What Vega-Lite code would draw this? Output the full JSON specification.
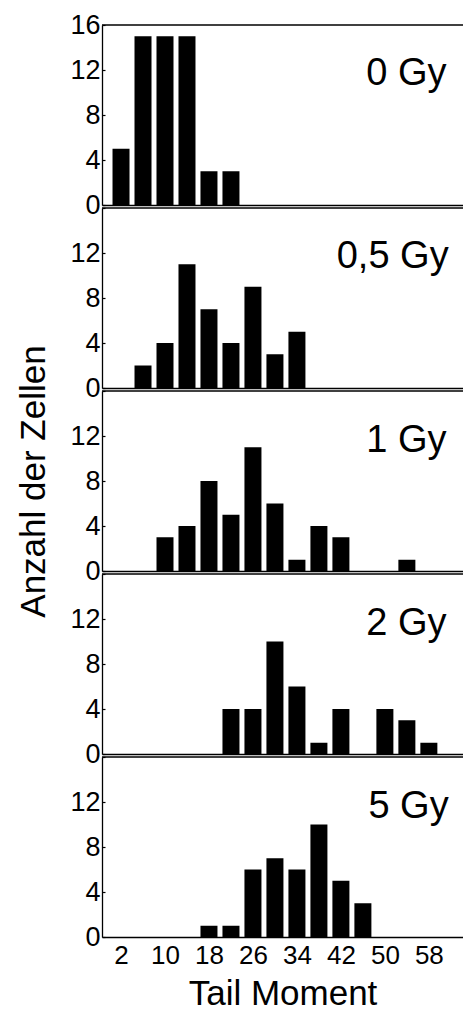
{
  "$schema": "https://vega.github.io/schema/vega-lite/v6.json",
  "padding": {"left": 16, "top": 11, "right": 0, "bottom": 0},
  "bounds": "flush",
  "spacing": 3,
  "config": {
    "view": {"stroke": null},
    "font": "Liberation Sans",
    "axis": {"domainColor": "black", "domainWidth": 1.3, "tickColor": "black", "tickWidth": 1.2, "labelColor": "black", "titleColor": "black", "grid": false, "labelFont": "Liberation Sans", "titleFont": "Liberation Sans", "titleFontWeight": "normal"}
  },
  "datasets": {
    "d": [
      {"dose": "0 Gy", "tm": 2, "n": 5}, {"dose": "0 Gy", "tm": 6, "n": 15}, {"dose": "0 Gy", "tm": 10, "n": 15}, {"dose": "0 Gy", "tm": 14, "n": 15}, {"dose": "0 Gy", "tm": 18, "n": 3}, {"dose": "0 Gy", "tm": 22, "n": 3}, {"dose": "0 Gy", "tm": 26, "n": 0}, {"dose": "0 Gy", "tm": 30, "n": 0}, {"dose": "0 Gy", "tm": 34, "n": 0}, {"dose": "0 Gy", "tm": 38, "n": 0}, {"dose": "0 Gy", "tm": 42, "n": 0}, {"dose": "0 Gy", "tm": 46, "n": 0}, {"dose": "0 Gy", "tm": 50, "n": 0}, {"dose": "0 Gy", "tm": 54, "n": 0}, {"dose": "0 Gy", "tm": 58, "n": 0},
      {"dose": "0,5 Gy", "tm": 2, "n": 0}, {"dose": "0,5 Gy", "tm": 6, "n": 2}, {"dose": "0,5 Gy", "tm": 10, "n": 4}, {"dose": "0,5 Gy", "tm": 14, "n": 11}, {"dose": "0,5 Gy", "tm": 18, "n": 7}, {"dose": "0,5 Gy", "tm": 22, "n": 4}, {"dose": "0,5 Gy", "tm": 26, "n": 9}, {"dose": "0,5 Gy", "tm": 30, "n": 3}, {"dose": "0,5 Gy", "tm": 34, "n": 5}, {"dose": "0,5 Gy", "tm": 38, "n": 0}, {"dose": "0,5 Gy", "tm": 42, "n": 0}, {"dose": "0,5 Gy", "tm": 46, "n": 0}, {"dose": "0,5 Gy", "tm": 50, "n": 0}, {"dose": "0,5 Gy", "tm": 54, "n": 0}, {"dose": "0,5 Gy", "tm": 58, "n": 0},
      {"dose": "1 Gy", "tm": 2, "n": 0}, {"dose": "1 Gy", "tm": 6, "n": 0}, {"dose": "1 Gy", "tm": 10, "n": 3}, {"dose": "1 Gy", "tm": 14, "n": 4}, {"dose": "1 Gy", "tm": 18, "n": 8}, {"dose": "1 Gy", "tm": 22, "n": 5}, {"dose": "1 Gy", "tm": 26, "n": 11}, {"dose": "1 Gy", "tm": 30, "n": 6}, {"dose": "1 Gy", "tm": 34, "n": 1}, {"dose": "1 Gy", "tm": 38, "n": 4}, {"dose": "1 Gy", "tm": 42, "n": 3}, {"dose": "1 Gy", "tm": 46, "n": 0}, {"dose": "1 Gy", "tm": 50, "n": 0}, {"dose": "1 Gy", "tm": 54, "n": 1}, {"dose": "1 Gy", "tm": 58, "n": 0},
      {"dose": "2 Gy", "tm": 2, "n": 0}, {"dose": "2 Gy", "tm": 6, "n": 0}, {"dose": "2 Gy", "tm": 10, "n": 0}, {"dose": "2 Gy", "tm": 14, "n": 0}, {"dose": "2 Gy", "tm": 18, "n": 0}, {"dose": "2 Gy", "tm": 22, "n": 4}, {"dose": "2 Gy", "tm": 26, "n": 4}, {"dose": "2 Gy", "tm": 30, "n": 10}, {"dose": "2 Gy", "tm": 34, "n": 6}, {"dose": "2 Gy", "tm": 38, "n": 1}, {"dose": "2 Gy", "tm": 42, "n": 4}, {"dose": "2 Gy", "tm": 46, "n": 0}, {"dose": "2 Gy", "tm": 50, "n": 4}, {"dose": "2 Gy", "tm": 54, "n": 3}, {"dose": "2 Gy", "tm": 58, "n": 1},
      {"dose": "5 Gy", "tm": 2, "n": 0}, {"dose": "5 Gy", "tm": 6, "n": 0}, {"dose": "5 Gy", "tm": 10, "n": 0}, {"dose": "5 Gy", "tm": 14, "n": 0}, {"dose": "5 Gy", "tm": 18, "n": 1}, {"dose": "5 Gy", "tm": 22, "n": 1}, {"dose": "5 Gy", "tm": 26, "n": 6}, {"dose": "5 Gy", "tm": 30, "n": 7}, {"dose": "5 Gy", "tm": 34, "n": 6}, {"dose": "5 Gy", "tm": 38, "n": 10}, {"dose": "5 Gy", "tm": 42, "n": 5}, {"dose": "5 Gy", "tm": 46, "n": 3}, {"dose": "5 Gy", "tm": 50, "n": 0}, {"dose": "5 Gy", "tm": 54, "n": 0}, {"dose": "5 Gy", "tm": 58, "n": 0}
    ]
  },
  "vconcat": [
    {
      "width": 361, "height": 180,
      "layer": [
        {"data": {"name": "d"}, "transform": [{"filter": "datum.dose == '0 Gy'"}],
         "mark": {"type": "bar", "size": 17, "color": "black"},
         "encoding": {
           "x": {"field": "tm", "type": "quantitative", "scale": {"domain": [-0.55, 63.3], "nice": false, "zero": false}, "axis": {"labels": false, "ticks": false, "title": null}},
           "y": {"field": "n", "type": "quantitative", "scale": {"domain": [0, 16], "nice": false}, "axis": {"values": [0, 2, 4, 6, 8, 10, 12, 14, 16], "labelExpr": "datum.value % 4 == 0 ? datum.label : ''", "tickSize": -3, "labelPadding": 5, "labelFontSize": 27, "title": null}}
         }},
        {"data": {"values": [{"label": "0 Gy"}]}, "mark": {"type": "rule", "color": "black", "strokeWidth": 1.3}, "encoding": {"y": {"datum": 16}}},
        {"data": {"values": [{"label": "0 Gy"}]}, "mark": {"type": "text", "align": "right", "baseline": "alphabetic", "fontSize": 38, "color": "black"},
         "encoding": {"x": {"datum": 61.2}, "y": {"datum": 10.7}, "text": {"field": "label"}}}
      ]
    },
    {
      "width": 361, "height": 180,
      "layer": [
        {"data": {"name": "d"}, "transform": [{"filter": "datum.dose == '0,5 Gy'"}],
         "mark": {"type": "bar", "size": 17, "color": "black"},
         "encoding": {
           "x": {"field": "tm", "type": "quantitative", "scale": {"domain": [-0.55, 63.3], "nice": false, "zero": false}, "axis": {"labels": false, "ticks": false, "title": null}},
           "y": {"field": "n", "type": "quantitative", "scale": {"domain": [0, 16], "nice": false}, "axis": {"values": [0, 2, 4, 6, 8, 10, 12, 14, 16], "labelExpr": "datum.value % 4 == 0 && datum.value < 16 ? datum.label : ''", "tickSize": -3, "labelPadding": 5, "labelFontSize": 27, "title": null}}
         }},
        {"data": {"values": [{"label": "0,5 Gy"}]}, "mark": {"type": "rule", "color": "black", "strokeWidth": 1.3}, "encoding": {"y": {"datum": 16}}},
        {"data": {"values": [{"label": "0,5 Gy"}]}, "mark": {"type": "text", "align": "right", "baseline": "alphabetic", "fontSize": 38, "color": "black"},
         "encoding": {"x": {"datum": 61.6}, "y": {"datum": 10.7}, "text": {"field": "label"}}}
      ]
    },
    {
      "width": 361, "height": 180,
      "layer": [
        {"data": {"name": "d"}, "transform": [{"filter": "datum.dose == '1 Gy'"}],
         "mark": {"type": "bar", "size": 17, "color": "black"},
         "encoding": {
           "x": {"field": "tm", "type": "quantitative", "scale": {"domain": [-0.55, 63.3], "nice": false, "zero": false}, "axis": {"labels": false, "ticks": false, "title": null}},
           "y": {"field": "n", "type": "quantitative", "scale": {"domain": [0, 16], "nice": false}, "axis": {"values": [0, 2, 4, 6, 8, 10, 12, 14, 16], "labelExpr": "datum.value % 4 == 0 && datum.value < 16 ? datum.label : ''", "tickSize": -3, "labelPadding": 5, "labelFontSize": 27, "title": "Anzahl der Zellen", "titleFontSize": 35, "titlePadding": 18}}
         }},
        {"data": {"values": [{"label": "1 Gy"}]}, "mark": {"type": "rule", "color": "black", "strokeWidth": 1.3}, "encoding": {"y": {"datum": 16}}},
        {"data": {"values": [{"label": "1 Gy"}]}, "mark": {"type": "text", "align": "right", "baseline": "alphabetic", "fontSize": 38, "color": "black"},
         "encoding": {"x": {"datum": 61.2}, "y": {"datum": 10.6}, "text": {"field": "label"}}}
      ]
    },
    {
      "width": 361, "height": 180,
      "layer": [
        {"data": {"name": "d"}, "transform": [{"filter": "datum.dose == '2 Gy'"}],
         "mark": {"type": "bar", "size": 17, "color": "black"},
         "encoding": {
           "x": {"field": "tm", "type": "quantitative", "scale": {"domain": [-0.55, 63.3], "nice": false, "zero": false}, "axis": {"labels": false, "ticks": false, "title": null}},
           "y": {"field": "n", "type": "quantitative", "scale": {"domain": [0, 16], "nice": false}, "axis": {"values": [0, 2, 4, 6, 8, 10, 12, 14, 16], "labelExpr": "datum.value % 4 == 0 && datum.value < 16 ? datum.label : ''", "tickSize": -3, "labelPadding": 5, "labelFontSize": 27, "title": null}}
         }},
        {"data": {"values": [{"label": "2 Gy"}]}, "mark": {"type": "rule", "color": "black", "strokeWidth": 1.3}, "encoding": {"y": {"datum": 16}}},
        {"data": {"values": [{"label": "2 Gy"}]}, "mark": {"type": "text", "align": "right", "baseline": "alphabetic", "fontSize": 38, "color": "black"},
         "encoding": {"x": {"datum": 61.2}, "y": {"datum": 10.6}, "text": {"field": "label"}}}
      ]
    },
    {
      "width": 361, "height": 180,
      "layer": [
        {"data": {"name": "d"}, "transform": [{"filter": "datum.dose == '5 Gy'"}],
         "mark": {"type": "bar", "size": 17, "color": "black"},
         "encoding": {
           "x": {"field": "tm", "type": "quantitative", "scale": {"domain": [-0.55, 63.3], "nice": false, "zero": false}, "axis": {"values": [2, 10, 18, 26, 34, 42, 50, 58], "ticks": false, "labelPadding": 5, "labelFontSize": 26, "title": "Tail Moment", "titleFontSize": 35, "titlePadding": 8}},
           "y": {"field": "n", "type": "quantitative", "scale": {"domain": [0, 16], "nice": false}, "axis": {"values": [0, 2, 4, 6, 8, 10, 12, 14, 16], "labelExpr": "datum.value % 4 == 0 && datum.value < 16 ? datum.label : ''", "tickSize": -3, "labelPadding": 5, "labelFontSize": 27, "title": null}}
         }},
        {"data": {"values": [{"label": "5 Gy"}]}, "mark": {"type": "rule", "color": "black", "strokeWidth": 1.3}, "encoding": {"y": {"datum": 16}}},
        {"data": {"values": [{"label": "5 Gy"}]}, "mark": {"type": "text", "align": "right", "baseline": "alphabetic", "fontSize": 38, "color": "black"},
         "encoding": {"x": {"datum": 61.6}, "y": {"datum": 10.6}, "text": {"field": "label"}}}
      ]
    }
  ]
}
